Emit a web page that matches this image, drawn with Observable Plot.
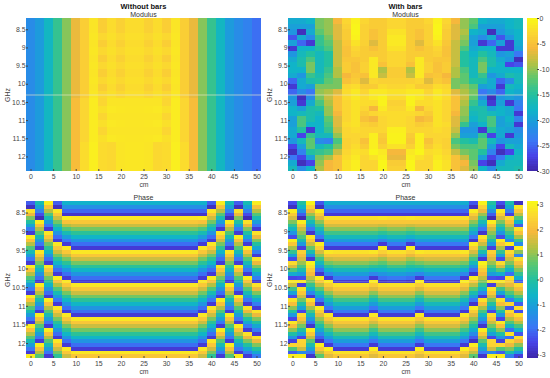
<!DOCTYPE html>
<html><head><meta charset="utf-8">
<script src="https://cdn.jsdelivr.net/npm/d3@7"></script>
<script src="https://cdn.jsdelivr.net/npm/@observablehq/plot@0.6"></script>
<style>
html,body{margin:0;padding:0;background:#fff;overflow:hidden}
#page{position:relative;width:550px;height:378px;font-family:"Liberation Sans",Arial,sans-serif;color:#444}
#page svg{position:absolute;background:transparent}
.t{position:absolute;text-align:center;width:235px;white-space:nowrap;line-height:9px}
</style></head><body><div id="page"></div>
<script>
const cm=[0,2,4,6,8,10,12,14,16,18,20,22,24,26,28,30,32,34,36,38,40,42,44,46,48,50];
const cmTicks=[0,5,10,15,20,25,30,35,40,45,50];
const ghzTicks=[8.5,9,9.5,10,10.5,11,11.5,12];
const modTicks=[0,-5,-10,-15,-20,-25,-30];
const phaseTicks=[-3,-2,-1,0,1,2,3];
const parula=["#3e26a8","#4743e8","#3a78f5","#1f96e0","#10b4c8","#22c0a0","#5cc770","#b0c244","#f6b83c","#fbd632","#f9fb15"];

// Modulus, without bars: rows of 0.2 GHz, top to bottom
const leftTail=[-22,-20.5,-17.5,-14,-10.5];
const rightTail=[-10.5,-14,-17.5,-20.5,-22,-23,-24.5];
const midA=[-6.5,-3.8,-1.8,-3.8,-2.5,-3.5,-2.5,-2.5,-3.5,-2.5,-3.8,-1.8,-3.8,-6.5];
const midB=[-6.5,-3.8,-1.6,-2.8,-2.2,-2.8,-2.3,-2.3,-2.8,-2.2,-2.8,-1.6,-3.8,-6.5];
const midC=[-5.5,-3,-1.2,-3,-1.8,-1.8,-1.8,-1.8,-1.8,-1.8,-3,-1.2,-3,-5.5];
const midD=[-5.5,-3,-1.2,-2.2,-1.5,-1.6,-1.7,-1.7,-1.6,-1.5,-2.2,-1.2,-3,-5.5];
const midE=[-5.5,-2.5,-1,-2.6,-2.8,-1.8,-1.6,-1.6,-1.8,-2.8,-2.6,-1,-2.5,-5.5];
const modLeftMid=[midA,midA,midB,midA,midB,midA,midB,midA,midB,midA,midB,midC,midD,midC,midD,midC,midD,midE,midE,midE,midE];

// Modulus, with bars: columns of 28 rows (0.15 GHz)
const m0=[-19,-20,-21,-26,-20,-28,-21,-19,-18,-18,-19,-25,-28,-25,-21,-20,-18,-18,-20,-20,-19,-19,-21,-27,-29,-24,-19,-17];
const m1=[-19,-20,-29,-19,-25,-18,-17,-16,-16,-18,-21,-19,-19,-22,-29,-28,-20,-17,-13,-13,-15,-27,-17,-20,-23,-27,-29,-22];
const m2=[-18,-20,-19,-22,-28,-18,-15,-13,-11,-11,-14,-16,-20,-24,-22,-19,-16,-16,-16,-18,-28,-14,-12,-12,-15,-20,-27,-18];
const m3=[-11,-11,-12,-14,-14,-15,-17,-17,-17,-17,-16,-15,-11,-10,-11,-13,-15,-17,-18,-18,-18,-17,-22,-17,-14,-11,-10,-9];
const m4=[-10,-10,-10,-11,-12,-13,-15,-15,-15,-14,-13,-12,-11,-9,-8,-9,-10,-10,-12,-13,-14,-17,-23,-15,-13,-9,-6,-6];
const m5=[-6,-7,-7,-7,-8,-8,-8,-8,-8,-9,-9,-11,-11,-7,-5,-5,-5,-6,-7,-7,-8,-10,-13,-11,-8,-5,-5,-5];
const m6=[-3,-3.5,-4,-4,-4.5,-5,-5,-4.5,-4,-4,-6,-5,-3,-2.5,-2.5,-3,-3,-3,-3,-2.5,-3,-3,-3.5,-3.5,-3,-2.5,-2,-2];
const m7=[-.8,-.5,-.5,-.8,-2,-3,-3.5,-4.5,-5,-5,-4.5,-4,-2.5,-1.5,-1.5,-2,-2,-2,-2,-2,-2.5,-3,-3,-2.5,-2,-1.5,-1,-1];
const m8=[-3,-3.5,-3.5,-3.5,-3.5,-4,-4,-4,-3.5,-3.5,-5,-7,-4,-3,-2.5,-2.5,-3,-4,-5,-3.5,-3,-3,-5,-4,-2.5,-3,-3,-3];
const m9=[-4,-4,-5,-5,-7,-5,-4,-1.5,-1.5,-1.5,-1.5,-3,-4,-1.5,-1.5,-2.5,-6,-3,-6,-4,-3,-1,-1,-1,-.5,-2,-3,-3];
const m10=[-4,-4,-4,-4,-4,-4,-4,-4,-5,-9,-8,-3.5,-2.5,-1.5,-.7,-.7,-1.5,-2.5,-3,-3,-3,-4,-4.5,-3.5,-1.5,-1,-.4,-.4];
const m11=[-3,-3,-2,-1.5,-1.5,-2,-3,-3,-3,-4,-4,-3.5,-3,-2,-2.5,-3.5,-3,-2.5,-2.5,-2.5,-1,-.7,-.7,-2,-6,-6.5,-4,-3.5];
const m19=[-10,-10,-9,-10,-11,-13,-15,-15,-15,-13,-12,-12,-10,-9,-8,-9,-10,-10,-11,-14,-21,-20,-15,-13,-11,-8,-6,-7];
const m20=[-12,-13,-18,-20,-20,-19,-18,-17,-17,-17,-17,-15,-12,-11,-12,-14,-16,-17,-18,-20,-21,-20,-16,-13,-12,-12,-11,-10];
const m24=[-18,-18,-19,-21,-28,-28,-20,-21,-27,-18,-16,-22,-17,-18,-20,-28,-19,-19,-18,-19,-20,-28,-20,-17,-27,-18,-17,-17];
const m25=[-17,-17,-18,-18,-19,-20,-24,-29,-26,-18,-17,-17,-18,-19,-21,-23,-24,-28,-23,-28,-22,-21,-20,-19,-18,-17,-17,-16];
const modRightCols=[m0,m1,m2,m3,m4,m5,m6,m7,m8,m9,m10,m11,m11,m10,m9,m8,m7,m6,m5,m19,m20,m2,m1,m0,m24,m25];

// Phase, without bars: columns of 42 rows (0.1 GHz)
const a0=[-2.2,-2.9,2.7,1.8,.9,0,-.9,-1.8,-2.7,2.9,2.1,1.3,.5,-.3,-1.1,-1.9,-2.7,2.9,2.1,1.3,.5,-.3,-1.1,-1.9,-2.7,2.9,2.1,1.3,.5,-.3,-1.1,-1.9,-2.7,2.9,2.1,1.3,.5,-.3,-1.1,-1.9,-2.7,2.9];
const a1=[-.3,-1,-1.7,-2.4,-3,2.9,2.1,1.3,.5,-.3,-1.1,-1.9,-2.7,2.8,2.2,1.5,.8,.1,-.6,-1.3,-2,-2.7,2.9,2.1,1.3,.5,-.3,-1.1,-1.9,-2.7,2.9,2.1,1.3,.5,-.3,-1.1,-1.9,-2.7,2.9,2.1,1.3,.5];
const a2=[2.9,2.1,1.3,.5,-.3,-1.1,-1.9,-2.7,2.8,2.2,1.5,.8,.1,-.6,-1.3,-2,-2.7,2.8,2.2,1.5,.8,.1,-.6,-1.3,-2,-2.7,2.9,2.1,1.3,.5,-.3,-1.1,-1.9,-2.7,2.9,2.1,1.3,.5,-.3,-1.1,-1.9,-2.7];
const a3=[-2.2,-2.9,2.8,2.2,1.5,.8,.1,-.6,-1.3,-2,-2.7,2.8,2.2,1.5,.8,.1,-.6,-1.3,-2,-2.7,2.9,2.1,1.3,.5,-.3,-1.1,-1.9,-2.7,2.8,2.2,1.5,.8,.1,-.6,-1.3,-2,-2.7,2.8,2.2,1.5,.8,.1];
const a4=[-.7,-1.4,-2.1,-2.8,2.9,2.1,1.3,.5,-.3,-1.1,-1.9,-2.7,2.8,2.2,1.5,.8,.1,-.6,-1.3,-2,-2.7,2.8,2.2,1.5,.8,.1,-.6,-1.3,-2,-2.7,2.8,2.2,1.5,.8,.1,-.6,-1.3,-2,-2.7,2.8,2.2,1.5];
const a5=[-.7,-1.4,-2.1,-2.8,2.8,2.2,1.5,.8,.1,-.6,-1.3,-2,-2.7,2.8,2.2,1.5,.8,.1,-.6,-1.3,-2,-2.7,2.8,2.2,1.5,.8,.1,-.6,-1.3,-2,-2.7,2.8,2.2,1.5,.8,.1,-.6,-1.3,-2,-2.7,2.8,2.2];
const a24=[-.3,-1,-1.7,-2.4,-3,2.7,1.8,.9,0,-.9,-1.8,-2.7,2.9,2.1,1.3,.5,-.3,-1.1,-1.9,-2.7,2.9,2.1,1.3,.5,-.3,-1.1,-1.9,-2.7,2.7,1.8,.9,0,-.9,-1.8,-2.7,2.7,1.8,.9,0,-.9,-1.8,-2.7];
const a25=[2.9,2.1,1.3,.5,-.3,-1.1,-1.9,-2.7,2.7,1.8,.9,0,-.9,-1.8,-2.7,2.7,1.8,.9,0,-.9,-1.8,-2.7,2.7,1.8,.9,0,-.9,-1.8,-2.7,2.7,1.8,.9,0,-.9,-1.8,-2.7,2.7,1.8,.9,0,-.9,-1.8];
const phaseLeftCols=[a0,a1,a2,a3,a4,a5,a5,a5,a5,a5,a5,a5,a5,a5,a5,a5,a5,a5,a5,a4,a3,a2,a1,a0,a24,a25];

// Phase, with bars: columns of 42 rows (0.1 GHz)
const b0=[-2.4,-2.9,2.9,2.3,1.6,.9,.2,-.5,-1.3,-2.4,2.9,2.2,1.2,.2,-1,-2.4,2.6,1.6,.5,-.8,-2.5,2.8,1.5,.3,-1,-2.4,2.7,2,1,0,-1.2,-2.5,2.8,2,1,-.1,-1.3,-2.6,2.5,.5,-2.2,2.9];
const b1=[0,-.6,-1.3,-2.2,-3,2.9,2.2,1.5,1,.5,-.2,-1.2,-2.6,2.4,2,1.6,1.1,.5,-.2,-1.1,-2.4,2.8,-2.6,2.7,2.2,1.5,.8,0,-1,-2.5,2.6,2.1,1.5,.8,0,-1,-2.5,2.5,2.4,1.5,-1.5,2.9];
const b2=[3,2.4,1.8,1.1,.4,-.3,-1,-1.9,-2.8,2.8,2.2,1.5,.7,-.2,-1.3,-2.7,3,2.7,2.3,1.9,1.4,.9,.2,-.6,-1.6,-2.7,2.7,2,1.2,.4,-.4,-1.2,-2,-2.8,2.9,2.2,1.4,.6,-.2,-1,-1.9,-2.8];
const b3=[-2.3,-2.9,2.9,2.3,1.7,1,.4,-.3,-1,-1.9,-2.8,2.9,2.3,1.6,1,.3,-.4,-1.2,-2,-2.8,2.9,2.2,1.4,.6,-.2,-1,-1.9,-2.8,2.9,2.3,1.7,1.1,.5,-.1,-.8,-1.5,-2.2,-2.9,2.9,2.2,1.4,.6];
const ba=[-.8,-1.4,-2.1,-2.7,2.7,2.2,1.6,1,.3,-.4,-1.1,-1.9,-2.7,2.7,2.2,1.6,1,.3,-.4,-1.1,-1.9,-2.7,2.7,2.2,1.6,1,.3,-.4,-1.1,-1.9,-2.7,2.7,2.2,1.6,1,.3,-.4,-1.1,-1.9,-2.7,2.7,2.2];
const bb=[-.8,-1.4,-2.1,-2.7,2.7,2.2,1.6,1,.3,-.4,-1.1,-1.9,-2.7,2.8,2.2,1.5,.8,.1,-.7,-1.6,-2.7,2.9,2.3,1.7,1,.3,-.4,-1.1,-1.9,-2.7,2.8,2.2,1.6,1,.3,-.4,-1.1,-1.9,-2.7,2.9,2.3,1.7];
const bc=[-.8,-1.4,-2.1,-2.7,2.8,2.2,1.5,.8,.1,-.7,-1.6,-2.7,2.9,2.4,1.8,1.2,.6,0,-.6,-1.3,-2,-2.8,2.7,2.2,1.6,1,.3,-.4,-1.1,-1.9,-2.7,2.7,2.2,1.6,1,.3,-.4,-1.1,-1.9,-2.7,2.7,2.2];
const b24=[-.2,-.9,-1.7,-2.6,2.6,2.1,1.5,.9,.3,-.5,-1.6,2.9,-2.6,2.6,2.1,1.5,.9,.2,-.7,-2,2.7,2.3,1.8,1.2,.5,-.4,-1.8,2.5,-2.3,2.6,2,1.3,.5,-.5,-2,2.7,-2,2.5,1.8,.9,-.2,-1.7];
const b25=[-2.9,2.8,2.2,1.4,.5,-.6,-2.2,2.7,2.1,1.2,.2,-1.5,2.9,1,-1.6,2.7,2.1,1.5,.9,.2,-.7,-2.2,2.6,2,1.3,.5,-.5,-2.2,2.6,-2.4,2.7,2,1.3,.4,-.7,-2.3,2.6,1.9,1,0,-1.2,-2.6];
const phaseRightCols=[b0,b1,b2,b3,bb,ba,ba,ba,ba,bb,bc,ba,ba,bc,bb,ba,ba,ba,ba,bb,b3,b2,b1,b0,b24,b25];

const modLeftCols=cm.map((_,i)=>modLeftMid.map(row=>[...leftTail,...row,...rightTail][i]));
const page=document.getElementById("page");
const cmap=d3.piecewise(d3.interpolateRgb,parula);
const fmt=d=>String(d);
const base={fontFamily:"Liberation Sans, Arial, sans-serif",fontSize:"6.9px",color:"#444",background:"transparent",overflow:"visible"};

function heat(cols,rowStep,domain,box,rule,ruleOpacity){
  const top=8.19,bottom=12.4;
  const cells=[];
  cols.forEach((col,i)=>col.forEach((v,r)=>{
    cells.push({x1:cm[i]-1,x2:cm[i]+1,y1:r===0?top:8.2+r*rowStep,y2:8.2+(r+1)*rowStep,v});
  }));
  const svg=Plot.plot({
    width:275,height:box.h,marginLeft:26,marginRight:14,marginTop:box.mt,marginBottom:box.mb,
    style:base,
    x:{domain:[-1,51]},
    y:{domain:[top,bottom],reverse:true},
    color:{type:"linear",domain,interpolate:cmap,clamp:true},
    marks:[
      Plot.rect(cells,{x1:"x1",x2:"x2",y1:"y1",y2:"y2",fill:"v",shapeRendering:"crispEdges",imageFilter:"blur(0.7px)"}),
      Plot.ruleY([rule],{stroke:"#e8e6c8",strokeOpacity:ruleOpacity,strokeWidth:1}),
      Plot.axisX({ticks:cmTicks,tickFormat:fmt,tickSize:-2,tickPadding:5,label:"cm",labelAnchor:"center",labelArrow:"none",labelOffset:15}),
      Plot.axisY({ticks:ghzTicks,tickFormat:fmt,tickSize:-2,tickPadding:3,label:"GHz",labelAnchor:"center",labelArrow:"none",labelOffset:21})
    ]
  });
  svg.style.left=box.x+"px";svg.style.top=box.y+"px";
  page.appendChild(svg);
}
function bar(domain,ticks,box){
  const n=64,span=domain[1]-domain[0];
  const steps=d3.range(n);
  const svg=Plot.plot({
    width:24,height:box.h,marginLeft:0,marginRight:13,marginTop:box.mt,marginBottom:box.mb,
    style:base,
    x:{domain:[0,1],axis:null},
    y:{domain},
    color:{type:"linear",domain,interpolate:cmap},
    marks:[
      Plot.rect(steps,{x1:0,x2:1,y1:i=>domain[0]+i*span/n,y2:i=>domain[0]+(i+1)*span/n,fill:i=>domain[0]+(i+.5)*span/n,shapeRendering:"crispEdges"}),
      Plot.axisY({anchor:"right",ticks,tickFormat:fmt,tickSize:-2,tickPadding:3,label:null})
    ]
  });
  svg.style.left="527px";svg.style.top=box.y+"px";
  page.appendChild(svg);
}
const modBox={h:190,mt:18,mb:19,y:0};
const phBox={h:188,mt:11,mb:20,y:190};
heat(modLeftCols,.2,[-30,0],{...modBox,x:0},10.295,.65);
heat(modRightCols,.15,[-30,0],{...modBox,x:262},10.295,.65);
heat(phaseLeftCols,.1,[-3.14,3.14],{...phBox,x:0},10.34,.15);
heat(phaseRightCols,.1,[-3.14,3.14],{...phBox,x:262},10.34,.25);
bar([-30,0],modTicks,modBox);
bar([-3.14,3.14],phaseTicks,phBox);

[["Without bars",143.5,2,true],["Modulus",143.5,10,false],["With bars",405.5,2,true],["Modulus",405.5,10,false],["Phase",143.5,193,false],["Phase",405.5,193,false]].forEach(([s,cx,y,b])=>{
  const d=document.createElement("div");d.className="t";d.textContent=s;
  d.style.left=(cx-117.5)+"px";d.style.top=y+"px";
  d.style.fontSize=b?"7.5px":"7px";d.style.fontWeight=b?"700":"400";
  d.style.color=b?"#111":"#333";
  page.appendChild(d);
});
</script></body></html>
